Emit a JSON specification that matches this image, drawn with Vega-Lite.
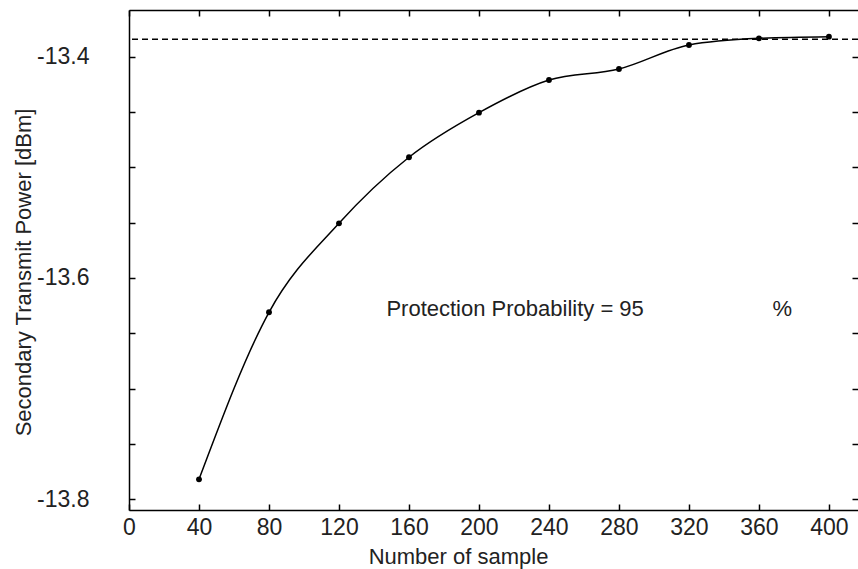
{
  "$schema": "https://vega.github.io/schema/vega-lite/v6.json",
  "autosize": {"type": "none"},
  "padding": {"left": 129, "right": 0, "top": 10, "bottom": 59},
  "width": 729,
  "height": 500,
  "background": "white",
  "config": {
    "view": {"stroke": null},
    "font": "Liberation Sans",
    "axis": {
      "grid": false,
      "domainColor": "#000",
      "domainWidth": 1.5,
      "tickColor": "#000",
      "tickWidth": 1.5,
      "labelFont": "Liberation Sans",
      "labelColor": "#222",
      "titleFont": "Liberation Sans",
      "titleColor": "#222",
      "titleFontWeight": "normal"
    }
  },
  "datasets": {
    "power": [
      {"n": 40, "p": -13.782},
      {"n": 80, "p": -13.631},
      {"n": 120, "p": -13.5506},
      {"n": 160, "p": -13.4909},
      {"n": 200, "p": -13.4506},
      {"n": 240, "p": -13.4211},
      {"n": 280, "p": -13.4111},
      {"n": 320, "p": -13.3894},
      {"n": 360, "p": -13.3834},
      {"n": 400, "p": -13.3819}
    ],
    "single": [{"label": "Protection Probability = 95", "pct": "%"}]
  },
  "resolve": {"axis": {"x": "independent", "y": "independent"}},
  "layer": [
    {
      "data": {"name": "power"},
      "mark": {"type": "line", "color": "#000", "strokeWidth": 1.5, "interpolate": "monotone"},
      "encoding": {
        "x": {
          "field": "n", "type": "quantitative",
          "scale": {"domain": [0, 416.6], "nice": false, "zero": false},
          "axis": {
            "orient": "bottom",
            "values": [0, 40, 80, 120, 160, 200, 240, 280, 320, 360, 400],
            "tickSize": -6,
            "labelFontSize": 23,
            "labelPadding": 12,
            "labelFlush": false,
            "title": "Number of sample",
            "titleFontSize": 22,
            "titleBaseline": "alphabetic",
            "titleX": 329,
            "titleY": 53
          }
        },
        "y": {
          "field": "p", "type": "quantitative",
          "scale": {"domain": [-13.8097, -13.3578], "nice": false, "zero": false},
          "axis": {
            "orient": "left",
            "values": [-13.8, -13.75, -13.7, -13.65, -13.6, -13.55, -13.5, -13.45, -13.4],
            "tickSize": -6,
            "labelFontSize": 23,
            "labelPadding": 46,
            "labelExpr": "(abs(datum.value*10 - round(datum.value*10)) < 0.01 && round(datum.value*10) % 2 == 0) ? '-' + format(abs(datum.value), '.1f') : ''",
            "title": "Secondary Transmit Power [dBm]",
            "titleFontSize": 22,
            "titleBaseline": "middle",
            "titleX": -106,
            "titleY": 262
          }
        }
      }
    },
    {
      "data": {"name": "power"},
      "mark": {"type": "point", "filled": true, "color": "#000", "size": 34, "opacity": 1},
      "encoding": {
        "x": {
          "field": "n", "type": "quantitative",
          "axis": {
            "orient": "top",
            "values": [0, 40, 80, 120, 160, 200, 240, 280, 320, 360, 400],
            "tickSize": -6,
            "labels": false,
            "title": null
          }
        },
        "y": {
          "field": "p", "type": "quantitative",
          "axis": {
            "orient": "right",
            "values": [-13.8, -13.75, -13.7, -13.65, -13.6, -13.55, -13.5, -13.45, -13.4],
            "tickSize": -6,
            "domain": false,
            "labels": false,
            "title": null
          }
        }
      }
    },
    {
      "data": {"name": "single"},
      "mark": {"type": "rule", "color": "#000", "strokeWidth": 1.5, "strokeDash": [6, 4]},
      "encoding": {
        "y": {"datum": -13.3843, "type": "quantitative", "axis": null}
      }
    },
    {
      "data": {"name": "single"},
      "mark": {"type": "text", "align": "left", "baseline": "alphabetic", "fontSize": 22, "font": "Liberation Sans", "color": "#222"},
      "encoding": {
        "x": {"datum": 147.1, "type": "quantitative", "axis": null},
        "y": {"datum": -13.6343, "type": "quantitative", "axis": null},
        "text": {"field": "label"}
      }
    },
    {
      "data": {"name": "single"},
      "mark": {"type": "text", "align": "left", "baseline": "alphabetic", "fontSize": 22, "font": "Liberation Sans", "color": "#222"},
      "encoding": {
        "x": {"datum": 367.8, "type": "quantitative", "axis": null},
        "y": {"datum": -13.6343, "type": "quantitative", "axis": null},
        "text": {"field": "pct"}
      }
    }
  ]
}
